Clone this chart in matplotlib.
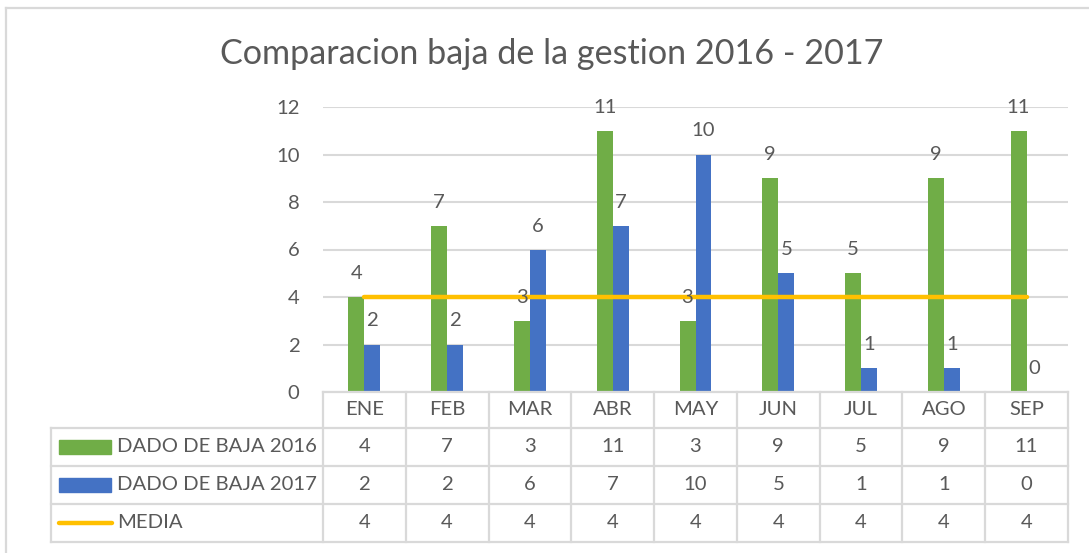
import matplotlib
matplotlib.use("Agg")
import matplotlib.pyplot as plt
from matplotlib.patches import Rectangle
from matplotlib.lines import Line2D

# ---------------- data ----------------
categories = ['ENE', 'FEB', 'MAR', 'ABR', 'MAY', 'JUN', 'JUL', 'AGO', 'SEP']
baja_2016 = [4, 7, 3, 11, 3, 9, 5, 9, 11]
baja_2017 = [2, 2, 6, 7, 10, 5, 1, 1, 0]
media = [4, 4, 4, 4, 4, 4, 4, 4, 4]
series_names = ['DADO DE BAJA 2016', 'DADO DE BAJA 2017', 'MEDIA']
y_ticks = [0, 2, 4, 6, 8, 10, 12]
title = 'Comparacion baja de la gestion 2016 - 2017'

# ---------------- style ----------------
W, H = 1089, 553
DPI = 100
GREEN = '#70AD47'
BLUE = '#4472C4'
GOLD = '#FFC000'
TXT = '#595959'
GRID = '#D9D9D9'
FONT = ['Lato', 'DejaVu Sans']
FS = 14.6
plt.rcParams['font.family'] = FONT

fig = plt.figure(figsize=(W / DPI, H / DPI), dpi=DPI)
fig.patch.set_facecolor('white')

def fx(px):
    return px / W

def fy(py):
    return 1 - py / H

# outer chart border
fig.add_artist(Line2D([fx(6), fx(W + 5)], [fy(8), fy(8)], color=GRID, lw=1.6))
fig.add_artist(Line2D([fx(6), fx(6)], [fy(8), fy(H + 5)], color=GRID, lw=1.6))

# title
fig.text(fx(552), fy(64), title, ha='center', va='baseline', fontsize=24.6,
         color=TXT)

# ---------------- main plot ----------------
PL, PR, PT, PB = 323, 1068, 107, 392
ax = fig.add_axes([fx(PL), fy(PB), fx(PR - PL), (PB - PT) / H])
n = len(categories)
xs = list(range(n))
bw = 0.193
x16 = [x - bw / 2 for x in xs]
x17 = [x + bw / 2 for x in xs]
ax.bar(x16, baja_2016, width=bw, color=GREEN, zorder=3)
ax.bar(x17, baja_2017, width=bw, color=BLUE, zorder=3)
ax.plot(xs, media, color=GOLD, lw=3.2, solid_capstyle='round', zorder=4)

for xv, v in zip(x16, baja_2016):
    ax.annotate(str(v), (xv, v), xytext=(0, 18), textcoords='offset pixels',
                ha='center', va='baseline', fontsize=FS, color=TXT, zorder=5)
for xv, v in zip(x17, baja_2017):
    ax.annotate(str(v), (xv, v), xytext=(0, 18), textcoords='offset pixels',
                ha='center', va='baseline', fontsize=FS, color=TXT, zorder=5)

ax.set_xlim(-0.5, n - 0.5)
ax.set_ylim(y_ticks[0], y_ticks[-1])
ax.set_yticks(y_ticks)
ax.set_yticklabels([str(t) for t in y_ticks])
ax.set_xticks([])
ax.tick_params(axis='y', length=0, pad=17, labelsize=FS, labelcolor=TXT)
ax.grid(axis='y', color=GRID, lw=1.5, zorder=0)
for s in ax.spines.values():
    s.set_visible(False)
ax.set_facecolor('none')

# ---------------- data table ----------------
TL, TB = 51, 542
row_edges = [392, 428, 466, 504, 542]  # pixel rows: header, 2016, 2017, media
cat_w = (PR - PL) / n
leg_w = (PL - TL) / cat_w
tax = fig.add_axes([fx(TL), fy(TB), fx(PR - TL), (TB - 392) / H])
tax.set_xlim(-0.5 - leg_w, n - 0.5)
tax.set_ylim(TB, 392)
tax.axis('off')
lkw = dict(color=GRID, lw=1.6, solid_capstyle='projecting', clip_on=False)
tax.plot([-0.5, n - 0.5], [row_edges[0]] * 2, **lkw)
for r in row_edges[1:]:
    tax.plot([-0.5 - leg_w, n - 0.5], [r, r], **lkw)
for i in range(n + 1):
    tax.plot([i - 0.5, i - 0.5], [row_edges[0], row_edges[-1]], **lkw)
tax.plot([-0.5 - leg_w] * 2, [row_edges[1], row_edges[-1]], **lkw)

def rc(i):
    return (row_edges[i] + row_edges[i + 1]) / 2

for i, c in enumerate(categories):
    tax.text(i, rc(0), c, ha='center', va='center', fontsize=FS, color=TXT)
for ri, vals in enumerate([baja_2016, baja_2017, media], start=1):
    for i, v in enumerate(vals):
        tax.text(i, rc(ri), str(v), ha='center', va='center', fontsize=FS, color=TXT)

pxu = 1 / cat_w  # data units per pixel
x0 = -0.5 - leg_w
for ri, col in [(1, GREEN), (2, BLUE)]:
    tax.add_patch(Rectangle((x0 + 8 * pxu, rc(ri) - 7), 52 * pxu, 14,
                            color=col, clip_on=False))
tax.plot([x0 + 8 * pxu, x0 + 61 * pxu], [rc(3), rc(3)], color=GOLD, lw=3.2,
         solid_capstyle='round', clip_on=False)
for ri, name in enumerate(series_names, start=1):
    tax.text(x0 + 66 * pxu, rc(ri), name, ha='left', va='center',
             fontsize=FS, color=TXT)

fig.savefig('out.png', dpi=DPI, facecolor='white')
